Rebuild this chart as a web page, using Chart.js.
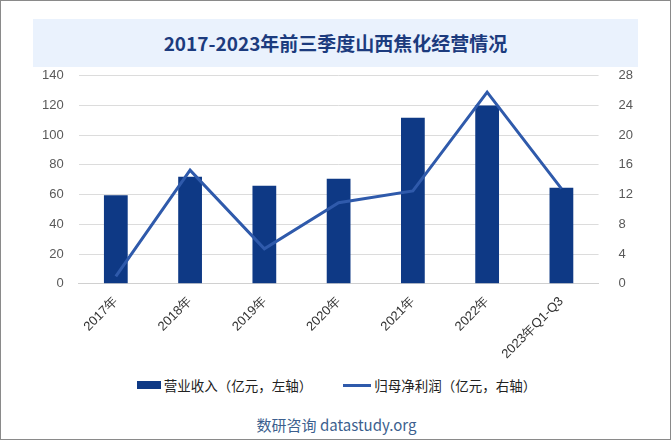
<!DOCTYPE html>
<html><head><meta charset="utf-8">
<script src="https://cdn.jsdelivr.net/npm/chart.js@4/dist/chart.umd.min.js"></script>
<style>
html,body{margin:0;padding:0;background:#fff;}
#wrap{position:relative;width:671px;height:440px;box-sizing:border-box;border:1px solid #8a8a8a;overflow:hidden;background:#fff;}
#title{position:absolute;left:32px;top:18px;width:605px;height:48px;background:#eaf2fd;color:#1c3b7e;font-family:"Noto Sans CJK SC",serif;font-weight:bold;font-size:19px;line-height:48px;text-align:center;}
#cw{position:absolute;left:0;top:52px;width:671px;height:311px;}
#legend{position:absolute;top:372px;left:0;width:671px;text-align:center;font-family:"Noto Sans CJK SC",sans-serif;font-size:13.5px;color:#222;}
.li{display:inline-block;vertical-align:middle;}
#footer{position:absolute;top:413px;left:0;width:671px;text-align:center;font-family:"Noto Sans CJK SC","Liberation Sans",sans-serif;font-size:15px;color:#3c5f8e;}
</style></head>
<body><div id="wrap">
<div id="title">2017-2023年前三季度山西焦化经营情况</div>
<div id="cw"><canvas id="c"></canvas></div>
<div id="legend">
<span class="li" style="width:24px;height:8px;background:#0e3985;margin-right:3px;"></span><span class="li">营业收入（亿元，左轴）</span>
<span class="li" style="width:28px;height:3px;background:#2f5aab;margin-left:28px;margin-right:3px;"></span><span class="li">归母净利润（亿元，右轴）</span>
</div>
<div id="footer">数研咨询 datastudy.org</div>
</div>
<script>
const categories = ["2017年","2018年","2019年","2020年","2021年","2022年","2023年Q1-Q3"];
const revenue = [59.5, 72, 66, 70.7, 111.7, 120, 64.6];
const profit = [1.0, 15.3, 4.7, 10.9, 12.5, 25.8, 12.8];
const leftTicks = [0,20,40,60,80,100,120,140];
const rightTicks = [0,4,8,12,16,20,24,28];

const tickFont = {family:"Liberation Sans, Arial, sans-serif", size:13};
new Chart(document.getElementById('c'), {
  data: {
    labels: categories,
    datasets: [
      {type:'line', label:'归母净利润（亿元，右轴）', data: profit, yAxisID:'y1', borderColor:'#2f5aab', borderWidth:3, pointRadius:0, tension:0, order:0},
      {type:'bar', label:'营业收入（亿元，左轴）', data: revenue, yAxisID:'y', backgroundColor:'#0e3985', categoryPercentage:1, barPercentage:0.32, order:1}
    ]
  },
  options: {
    responsive:true, maintainAspectRatio:false, animation:false,
    layout:{padding:{left:26,right:27,top:4,bottom:0}},
    plugins:{legend:{display:false}, title:{display:false}, tooltip:{enabled:false}},
    scales:{
      x:{grid:{display:false}, border:{display:true,color:'#d0d0d0'},
         ticks:{color:'#333', font:tickFont, maxRotation:45, minRotation:45, padding:2}},
      y:{position:'left', min:0, max:140, afterBuildTicks:a=>{a.ticks=leftTicks.map(v=>({value:v}));},
         grid:{color:'#dcdcdc', drawTicks:false}, border:{display:false},
         ticks:{color:'#595959', font:tickFont, padding:15}},
      y1:{position:'right', min:0, max:28, afterBuildTicks:a=>{a.ticks=rightTicks.map(v=>({value:v}));},
         grid:{display:false}, border:{display:false},
         ticks:{color:'#595959', font:tickFont, padding:12}}
    }
  }
});
</script>
</body></html>
